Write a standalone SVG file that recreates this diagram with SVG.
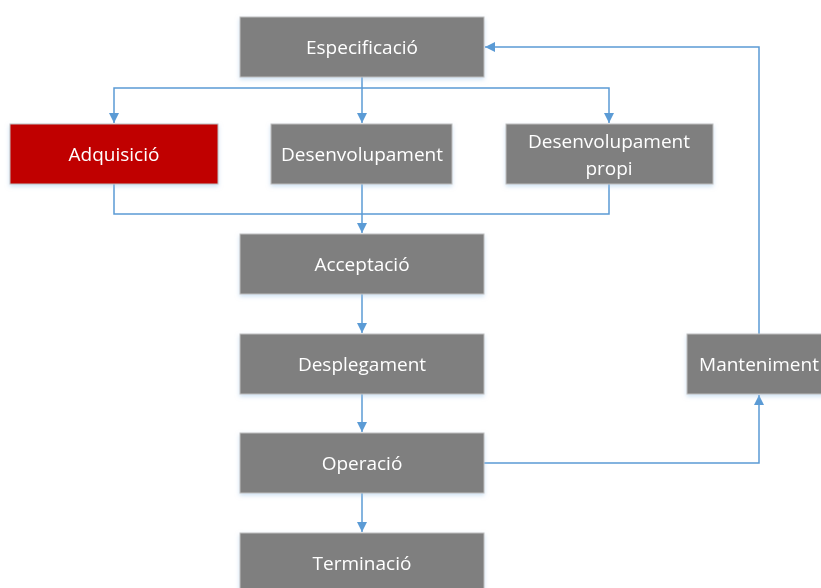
<svg xmlns="http://www.w3.org/2000/svg" width="821" height="588" viewBox="0 0 821 588">
<style>
.box{fill:#7F7F7F;stroke:#BFBFBF;stroke-width:1}
.red{fill:#C00000;stroke:#BFBFBF;stroke-width:1}
.lbl{font-family:"Open Sans","Liberation Sans",sans-serif;font-size:19px;fill:#FFFFFF;text-anchor:middle}
.con{fill:none;stroke:#5B9BD5;stroke-width:1.5}
</style>
<defs>
<marker id="ah" viewBox="0 0 10 10" refX="10" refY="5" markerWidth="10" markerHeight="10" markerUnits="userSpaceOnUse" orient="auto">
<path d="M0,0 L10,5 L0,10 Z" fill="#5B9BD5"/>
</marker>
<filter id="sh" x="-10%" y="-10%" width="120%" height="130%">
<feDropShadow dx="0" dy="2" stdDeviation="2" flood-color="#9DC3E6" flood-opacity="0.5"/>
</filter>
</defs>
<g id="connectors">
<path class="con" d="M362,77 V88 H114 V123" marker-end="url(#ah)"/>
<path class="con" d="M362,88 V123" marker-end="url(#ah)"/>
<path class="con" d="M362,88 H609 V123" marker-end="url(#ah)"/>
<path class="con" d="M114,184 V214 H609 V184"/>
<path class="con" d="M362,184 V233" marker-end="url(#ah)"/>
<path class="con" d="M362,294 V333" marker-end="url(#ah)"/>
<path class="con" d="M362,394 V432" marker-end="url(#ah)"/>
<path class="con" d="M362,493 V532" marker-end="url(#ah)"/>
<path class="con" d="M484,463 H759 V395" marker-end="url(#ah)"/>
<path class="con" d="M759,334 V47 H485" marker-end="url(#ah)"/>
</g>
<g id="especificacio" filter="url(#sh)"><rect class="box" x="240" y="17" width="244" height="60"/><text class="lbl" x="362" y="54">Especificació</text></g>
<g id="adquisicio" filter="url(#sh)"><rect class="red" x="10" y="124" width="208" height="60"/><text class="lbl" x="114" y="161">Adquisició</text></g>
<g id="desenvolupament" filter="url(#sh)"><rect class="box" x="271" y="124" width="181" height="60"/><text class="lbl" x="362" y="161">Desenvolupament</text></g>
<g id="desenvolupament-propi" filter="url(#sh)"><rect class="box" x="506" y="124" width="207" height="60"/><text class="lbl" x="609" y="148">Desenvolupament</text><text class="lbl" x="609" y="175">propi</text></g>
<g id="acceptacio" filter="url(#sh)"><rect class="box" x="240" y="234" width="244" height="60"/><text class="lbl" x="362" y="271">Acceptació</text></g>
<g id="desplegament" filter="url(#sh)"><rect class="box" x="240" y="334" width="244" height="60"/><text class="lbl" x="362" y="371">Desplegament</text></g>
<g id="operacio" filter="url(#sh)"><rect class="box" x="240" y="433" width="244" height="60"/><text class="lbl" x="362" y="470">Operació</text></g>
<g id="terminacio" filter="url(#sh)"><rect class="box" x="240" y="533" width="244" height="60"/><text class="lbl" x="362" y="570">Terminació</text></g>
<g id="manteniment" filter="url(#sh)"><rect class="box" x="687" y="334" width="160" height="60"/><text class="lbl" x="759" y="371">Manteniment</text></g>
</svg>
